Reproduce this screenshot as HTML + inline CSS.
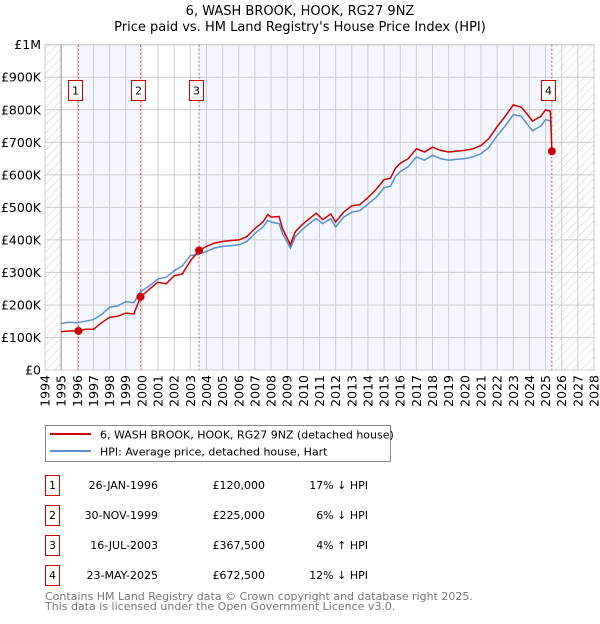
<!DOCTYPE html>
<html><head><meta charset="utf-8"><style>
body{margin:0;background:#fff;font-family:"DejaVu Sans","Liberation Sans",sans-serif;}
svg text{font-family:"DejaVu Sans","Liberation Sans",sans-serif;}
</style></head><body>
<svg id="c" width="600" height="620" xmlns="http://www.w3.org/2000/svg">
<defs><pattern id="hatch" width="6" height="6" patternUnits="userSpaceOnUse" patternTransform="rotate(45)"><line x1="0" y1="0" x2="0" y2="6" stroke="#ccc" stroke-width="1"/></pattern></defs>
<text x="300" y="15" text-anchor="middle" font-size="13">6, WASH BROOK, HOOK, RG27 9NZ</text>
<text x="300" y="31" text-anchor="middle" font-size="13">Price paid vs. HM Land Registry's House Price Index (HPI)</text>
<g id="plot"></g>
<g>
<rect x="45.5" y="425.5" width="345" height="36" fill="#fff" stroke="#888"/>
<line x1="50" y1="434" x2="91" y2="434" stroke="#cc0000" stroke-width="2"/>
<text x="100" y="438.5" font-size="11">6, WASH BROOK, HOOK, RG27 9NZ (detached house)</text>
<line x1="50" y1="451" x2="91" y2="451" stroke="#5b8fd0" stroke-width="2"/>
<text x="100" y="455.5" font-size="11">HPI: Average price, detached house, Hart</text>
</g>
<g id="table" font-size="11"></g>
<text x="45" y="600" font-size="11" fill="#777">Contains HM Land Registry data © Crown copyright and database right 2025.</text>
<text x="45" y="610" font-size="11" fill="#777">This data is licensed under the Open Government Licence v3.0.</text>
</svg>
<script>
const hpiX=[1995.0,1995.5,1996.0,1996.5,1997.0,1997.5,1998.0,1998.5,1999.0,1999.5,1999.9,2000.5,2001.0,2001.5,2002.0,2002.5,2003.0,2003.5,2004.0,2004.5,2005.0,2005.5,2006.0,2006.5,2007.0,2007.5,2007.8,2008.0,2008.5,2008.7,2009.2,2009.5,2010.0,2010.5,2010.8,2011.2,2011.7,2012.0,2012.5,2013.0,2013.5,2014.0,2014.5,2015.0,2015.4,2015.7,2016.0,2016.5,2017.0,2017.5,2018.0,2018.5,2019.0,2019.5,2020.0,2020.5,2021.0,2021.5,2022.0,2022.5,2023.0,2023.5,2023.8,2024.2,2024.7,2025.0,2025.3];
const hpiY=[143,147,145,150,155,170,193,197,210,207,240,260,280,285,305,320,352,355,365,375,380,382,385,395,420,440,460,455,450,420,375,410,435,455,465,450,465,440,470,485,490,510,530,560,565,595,610,625,655,645,660,650,645,648,650,655,665,685,720,750,785,780,760,735,750,770,765];
const propX=[1995.0,1995.5,1996.07,1996.5,1997.0,1997.5,1998.0,1998.5,1999.0,1999.5,1999.92,2000.5,2001.0,2001.5,2002.0,2002.5,2003.0,2003.54,2004.0,2004.5,2005.0,2005.5,2006.0,2006.5,2007.0,2007.5,2007.8,2008.0,2008.5,2008.7,2009.2,2009.5,2010.0,2010.5,2010.8,2011.2,2011.7,2012.0,2012.5,2013.0,2013.5,2014.0,2014.5,2015.0,2015.4,2015.7,2016.0,2016.5,2017.0,2017.5,2018.0,2018.5,2019.0,2019.5,2020.0,2020.5,2021.0,2021.5,2022.0,2022.5,2023.0,2023.5,2023.8,2024.2,2024.7,2025.0,2025.3,2025.39];
const propY=[118,120,120,125,125,145,162,165,175,172,225,250,270,265,290,295,335,367.5,380,390,395,398,400,410,435,455,478,470,472,435,385,425,450,470,482,462,480,455,485,505,508,530,555,585,590,620,635,650,680,670,685,675,670,673,675,680,690,712,748,780,815,808,790,765,780,800,795,672.5];
const saleX=[1996.07,1999.92,2003.54,2025.39];
const saleY=[120,225,367.5,672.5];
const saleDates=["26-JAN-1996","30-NOV-1999","16-JUL-2003","23-MAY-2025"];
const salePrices=["£120,000","£225,000","£367,500","£672,500"];
const saleDiffs=["17% ↓ HPI","6% ↓ HPI","4% ↑ HPI","12% ↓ HPI"];
const yTicks=[0,100,200,300,400,500,600,700,800,900,1000];
const yTickLabels=["£0","£100K","£200K","£300K","£400K","£500K","£600K","£700K","£800K","£900K","£1M"];
const xTicks=[1994,1995,1996,1997,1998,1999,2000,2001,2002,2003,2004,2005,2006,2007,2008,2009,2010,2011,2012,2013,2014,2015,2016,2017,2018,2019,2020,2021,2022,2023,2024,2025,2026,2027,2028];

const X0=45,X1=594,Y0=370,Y1=44.7;
const sx=v=>X0+(v-1994)/(2028-1994)*(X1-X0);
const sy=v=>Y0-v/1000*(Y0-Y1);
const NS="http://www.w3.org/2000/svg";
function mk(tag,attrs,parent){const e=document.createElementNS(NS,tag);for(const k in attrs)e.setAttribute(k,attrs[k]);parent.appendChild(e);return e;}
const g=document.getElementById('plot');
let r;
r=mk('rect',{x:X0,y:Y1,width:sx(1995)-X0,height:Y0-Y1,fill:'url(#hatch)'},g);


r=mk('rect',{x:sx(saleX[0]),y:Y1,width:sx(saleX[1])-sx(saleX[0]),height:Y0-Y1,fill:'#f3f6fe'},g);


r=mk('rect',{x:sx(saleX[2]),y:Y1,width:sx(saleX[3])-sx(saleX[2]),height:Y0-Y1,fill:'#f3f6fe'},g);


r=mk('rect',{x:sx(saleX[3]),y:Y1,width:X1-sx(saleX[3]),height:Y0-Y1,fill:'url(#hatch)'},g);


yTicks.forEach((v,i)=>{
 const l=mk('line',{x1:X0,x2:X1,y1:sy(v),y2:sy(v),stroke:'#ccc','stroke-width':1},g);
 
 
 const t=mk('text',{x:X0-4,y:sy(v)+4.5,'text-anchor':'end','font-size':12.5},g);
 t.textContent=yTickLabels[i];
 
 
});
xTicks.forEach(v=>{
 const l=mk('line',{x1:sx(v),x2:sx(v),y1:Y1,y2:Y0,stroke:'#ccc','stroke-width':1},g);
 
 
 const t=mk('text',{x:0,y:0,'text-anchor':'end','font-size':12.5,transform:`translate(${sx(v)+4.5},${Y0+5}) rotate(-90)`},g);
 t.textContent=v;
 
 
});
r=mk('rect',{x:X0,y:Y1,width:X1-X0,height:Y0-Y1,fill:'none',stroke:'#ccc'},g);


let l=mk('line',{x1:sx(1995),x2:sx(1995),y1:Y1,y2:Y0,stroke:'#999'},g);


saleX.forEach((v,i)=>{
 const d=mk('line',{x1:sx(v),x2:sx(v),y1:Y1,y2:Y0,stroke:'#e05050','stroke-width':1,'stroke-dasharray':'2,2'},g);
 
 
});
const path=(xs,ys)=>xs.map((x,i)=>(i?'L':'M')+sx(x).toFixed(1)+','+sy(ys[i]).toFixed(1)).join('');
const ph=mk('path',{d:path(hpiX,hpiY),fill:'none',stroke:'#5b8fd0','stroke-width':1.5},g);


const pp=mk('path',{d:path(propX,propY),fill:'none',stroke:'#cc0000','stroke-width':1.5},g);


saleX.forEach((v,i)=>{
 const c=mk('circle',{cx:sx(v),cy:sy(saleY[i]),r:4,fill:'#cc0000'},g);
 
 
 const bx=Math.round(sx(v))-(i==3?11:10);
 const b=mk('rect',{x:bx+0.5,y:80.5,width:14,height:20,fill:'#fff',stroke:'#cc0000'},g);
 
 
 const t=mk('text',{x:bx+7.5,y:94.5,'text-anchor':'middle','font-size':11},g);
 t.textContent=String(i+1);
 
 
});
const tb=document.getElementById('table');
saleDates.forEach((d,i)=>{
 const y=483+i*30;
 const b=mk('rect',{x:45.5,y:y-7.5,width:14,height:20,fill:'#fff',stroke:'#cc0000'},tb);
 
 
 let t=mk('text',{x:52.5,y:y+6,'text-anchor':'middle'},tb);t.textContent=String(i+1);
 
 
 t=mk('text',{x:158,y:y+6,'text-anchor':'end'},tb);t.textContent=d;
 
 
 t=mk('text',{x:265,y:y+6,'text-anchor':'end'},tb);t.textContent=salePrices[i];
 
 
 t=mk('text',{x:368,y:y+6,'text-anchor':'end'},tb);t.textContent=saleDiffs[i];
 
 
});
</script>
</body></html>
